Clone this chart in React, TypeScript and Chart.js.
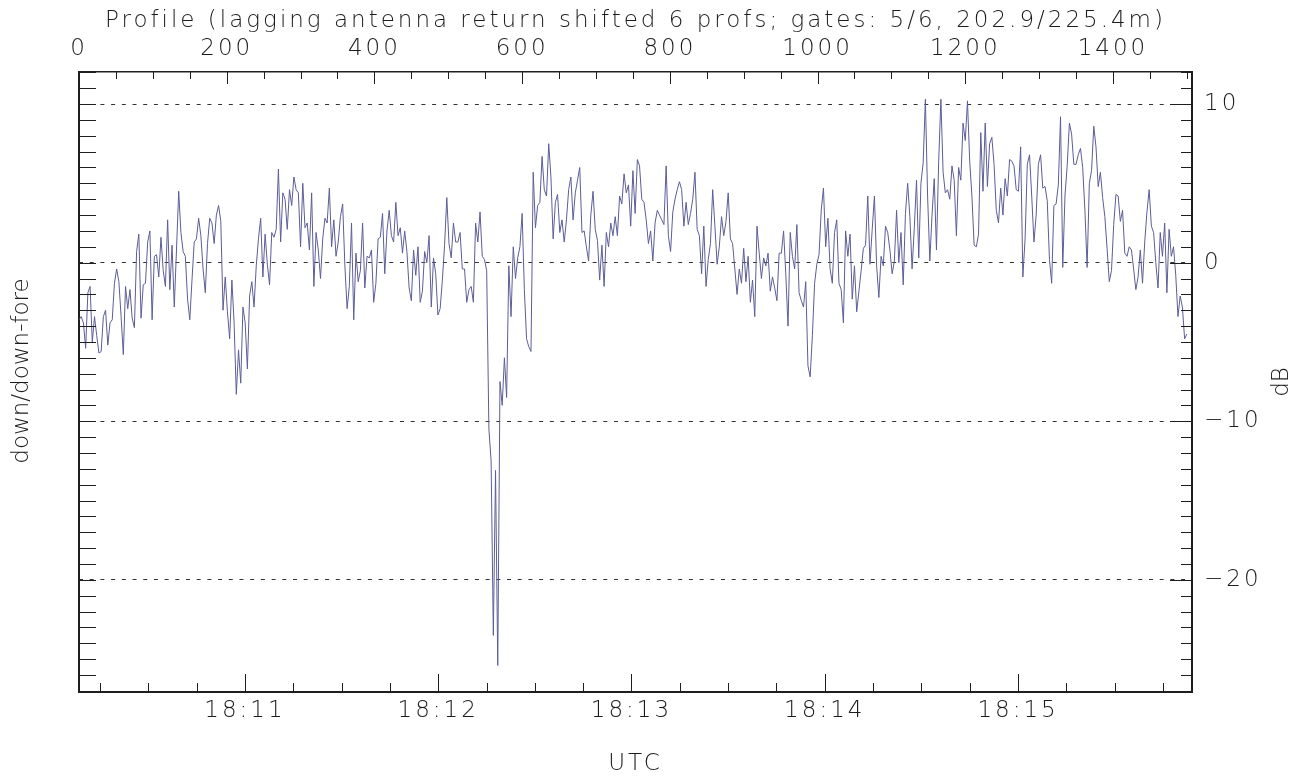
import React, { useEffect, useRef } from 'react';
import { Chart, registerables } from 'chart.js';

Chart.register(...registerables);

// ---- axis definitions ----
const PROFILE_STEP = 3;
const PROFILE_MIN = 0;
const PROFILE_MAX = 1507;
const TIME_START_S = 8.5; // seconds after 18:10:00 at profile 0
const TIME_END_S = 354.0; // seconds after 18:10:00 at PROFILE_MAX
const DB_MIN = -27.07;
const DB_MAX = 12.02;

const PROFILE_TICKS = [0, 200, 400, 600, 800, 1000, 1200, 1400];
const PROFILE_MINOR_STEP = 50;
const TIME_TICK_SECONDS = [60, 120, 180, 240, 300];
const TIME_TICK_LABELS = ['18:11', '18:12', '18:13', '18:14', '18:15'];
const TIME_MINOR_STEP = 15;
const DB_TICKS = [-20, -10, 0, 10];
const DB_MINOR_STEP = 1;

const TITLE_TOP = 'Profile (lagging antenna return shifted 6 profs; gates: 5/6, 202.9/225.4m)';
const TITLE_BOTTOM = 'UTC';
const TITLE_LEFT = 'down/down-fore';
const TITLE_RIGHT = 'dB';

// ---- series values (dB), one value every PROFILE_STEP profiles ----
const DB_P0000_0189 = [
  -3.6, -3.4, -3.8, -5.4, -1.9, -1.5, -5.0, -3.4, -4.6, -5.7,
  -5.6, -3.4, -3.0, -5.2, -3.8, -3.6, -1.3, -0.4, -1.2, -3.4,
  -5.8, -1.5, -2.9, -1.7, -3.5, -4.1, 0.7, 1.8, -3.5, -1.4,
  -1.3, 1.3, 2.0, -3.6, 0.4, 0.5, -0.9, 1.6, -0.5, -1.5,
  2.7, -1.7, 1.1, -2.8, 0.8, 4.5, 1.9, 0.7, 0.4, -2.3,
  -3.6, -1.1, 1.3, 1.5, 2.8, 1.7, -0.4, -1.9, 1.2, 2.8,
  2.5, 1.2, 3.0, 3.6,
];
const DB_P0192_0378 = [
  2.6, -3.0, -0.9, -3.1, -4.8, -1.1, -3.8, -8.3, -5.5, -7.6,
  -2.8, -3.8, -6.7, -2.1, -1.2, -2.8, -0.2, 1.5, 2.8, -0.9,
  1.8, -0.1, -1.4, 1.9, 1.6, 2.1, 5.9, 1.3, 4.4, 4.0,
  2.1, 4.6, 3.6, 5.4, 4.6, 4.4, 1.0, 5.0, 2.2, 2.5,
  0.8, 4.4, -1.5, 1.9, 0.8, -1.0, 1.5, 2.8, 2.5, 4.7,
  1.0, 2.7, 0.4, 1.3, 2.9, 3.7, -0.2, -2.9, -1.5, 2.5,
  -3.6, 0.6, -1.2,
];
const DB_P0381_0552 = [
  -0.5, 2.5, -1.6, 0.4, 0.3, 0.8, -2.5, -1.3, 1.5, 1.6,
  3.1, -0.7, 2.0, 3.3, 1.7, 1.3, 3.8, 1.7, 2.2, 0.6,
  2.0, 0.7, -1.6, -2.4, 0.8, -0.8, 1.0, -2.5, -1.8, 0.7,
  0.0, 1.7, -2.8, 0.3, -0.7, -3.3, -2.9, -1.1, 1.1, 4.1,
  1.2, 0.3, 2.5, 1.3, 1.3, 1.9, -0.4, -0.4, -2.5, -1.7,
  -1.5, -2.5, 2.5, 1.3, 3.2, 0.4, 0.2, -0.5,
];
const DB_P0555_0570 = [-10.5, -12.5, -23.5, -13.1, -25.4, -7.5];
const DB_P0573_0744 = [
  -9.0, -6.0, -8.5, -0.2, -3.4, 1.0, -1.0, 0.3, 1.0, 3.1,
  -1.7, -4.8, -5.3, -5.6, 5.7, 2.2, 3.6, 3.8, 6.7, 4.6,
  4.2, 7.5, 5.4, 1.5, 3.8, 4.3, 1.9, 2.7, 1.3, 2.7,
  4.6, 5.4, 2.7, 4.4, 5.2, 6.0, 1.9, 2.0, 1.0, 0.1,
  3.0, 4.5, 2.1, 1.4, -1.1, 1.1, -1.5, 1.9, 1.0, 2.5,
  1.7, 2.9, 1.7, 4.2, 3.7, 5.6, 4.4, 4.9,
];
const DB_P0747_0933 = [
  2.3, 5.8, 3.1, 6.5, 6.1, 4.0, 3.8, 2.7, 1.2, 2.0,
  0.1, 2.5, 3.3, 3.0, 2.7, 2.4, 6.1, 1.7, 0.7, 3.2,
  4.0, 4.6, 5.1, 4.6, 2.3, 3.8, 2.4, 3.1, 4.0, 5.7,
  2.1, 1.7, -0.7, 2.3, -1.5, 0.2, 1.2, 4.6, 2.3, -0.1,
  1.0, 2.9, 1.7, 2.6, 4.4, 1.5, 1.2, -0.4, -2.0, -0.4,
  -1.3, 0.9, -1.2, 0.4, -2.5, -1.1, -3.4, 2.3, 0.6, -1.0,
  0.3, -0.2, 0.6,
];
const DB_P0936_1122 = [
  -1.8, -0.9, -1.6, -2.4, 0.6, 0.6, 2.0, -0.7, -4.0, 1.9,
  0.4, -0.4, 2.4, -1.9, -2.4, -2.8, -1.2, -6.5, -7.2, -4.6,
  -1.3, -0.1, 0.5, 3.3, 4.7, 1.0, 2.8, -0.4, -1.3, 1.9,
  2.7, -1.3, -1.7, -3.8, 2.0, 0.4, 1.8, -2.3, -0.2, -3.1,
  -1.8, -0.5, 0.9, 1.1, 4.2, -0.1, 2.1, 4.2, -0.2, -2.2,
  0.4, -0.2, 2.3, 1.9, 0.8, -0.7, 0.1, 3.3, 0.0, 1.9,
  -1.4, 3.1, 5.0,
];
const DB_P1125_1311 = [
  2.9, -0.4, 2.2, 5.2, 0.3, 5.0, 6.3, 10.3, 4.2, 0.1,
  3.0, 5.3, 0.8, 6.4, 10.3, 5.7, 4.4, 4.6, 4.0, 6.1,
  5.2, 1.7, 6.0, 5.2, 8.8, 7.7, 10.2, 6.4, 4.2, 1.1,
  1.0, 1.8, 8.2, 4.5, 8.8, 4.8, 7.5, 7.9, 6.2, 3.3,
  2.5, 4.7, 3.0, 5.3, 4.2, 6.5, 6.4, 6.1, 4.6, 4.5,
  7.3, -0.9, 1.5, 6.2, 6.8, 4.2, 1.3, 3.0, 6.2, 6.8,
  4.7, 4.8, 3.9,
];
const DB_P1314_1500 = [
  0.2, -1.3, 3.6, 3.7, 4.9, 9.2, -0.3, 4.2, 6.1, 8.8,
  8.1, 6.2, 6.2, 6.8, 7.2, 6.0, 3.3, -0.3, 5.0, 5.8,
  8.6, 7.3, 4.8, 5.7, 4.1, 2.9, 0.9, -1.2, -0.5, 2.4,
  4.3, 4.2, 2.6, 3.3, 0.6, 0.4, 1.0, 0.8, -0.4, -1.7,
  -0.9, 0.8, -1.3, 1.3, 3.2, 4.6, 2.3, 1.9, 0.0, -1.6,
  1.9, 0.4, 2.5, -1.9, 2.1, 0.4, 1.0, -0.8, -3.4, -2.1,
  -2.8, -4.8, -4.5,
];

const DB_VALUES = [
  ...DB_P0000_0189,
  ...DB_P0192_0378,
  ...DB_P0381_0552,
  ...DB_P0555_0570,
  ...DB_P0573_0744,
  ...DB_P0747_0933,
  ...DB_P0936_1122,
  ...DB_P1125_1311,
  ...DB_P1314_1500,
];

// ---- styling ----
const LINE_COLOR = '#5c5d97';
const AXIS_COLOR = '#1e1e1e';
const TEXT_COLOR = '#1c1c1c';
const FONT_FAMILY = "'DejaVu Sans', 'Liberation Sans', sans-serif";
const FONT_WEIGHT = 200;
const FONT_SIZE = 23;
const LETTER_SPACING = '3px';

const W = 1310;
const H = 778;
const AREA = { left: 79, top: 72, right: 1192, bottom: 692 };

const spacing = {
  id: 'letterSpacing',
  beforeDraw(chart: any) {
    chart.ctx.letterSpacing = LETTER_SPACING;
  },
  afterDraw(chart: any) {
    chart.ctx.letterSpacing = '0px';
  },
};

const inwardTicks = {
  id: 'inwardTicks',
  afterDraw(chart: any) {
    const { ctx, chartArea: a, scales } = chart;
    const line = (x1: number, y1: number, x2: number, y2: number) => {
      ctx.beginPath();
      ctx.moveTo(x1, y1);
      ctx.lineTo(x2, y2);
      ctx.stroke();
    };
    ctx.save();
    ctx.strokeStyle = AXIS_COLOR;
    ctx.lineWidth = 1;
    const yL = scales.y;
    for (let v = Math.ceil(DB_MIN); v <= DB_MAX; v += DB_MINOR_STEP) {
      const py = Math.round(yL.getPixelForValue(v)) + 0.5;
      line(a.left, py, a.left + 17, py);
    }
    const yR = scales.y2;
    for (let v = Math.ceil(DB_MIN); v <= DB_MAX; v += DB_MINOR_STEP) {
      const py = Math.round(yR.getPixelForValue(v)) + 0.5;
      const len = DB_TICKS.includes(v) ? 22 : 11;
      line(a.right - len, py, a.right, py);
    }
    const xT = scales.xTop;
    for (let p = PROFILE_MIN + PROFILE_MINOR_STEP; p < PROFILE_MAX; p += PROFILE_MINOR_STEP) {
      const px = Math.round(xT.getPixelForValue(p)) + 0.5;
      const len = PROFILE_TICKS.includes(p) ? 12 : 7;
      line(px, a.top, px, a.top + len);
    }
    const xB = scales.xBottom;
    const first = Math.ceil(TIME_START_S / TIME_MINOR_STEP) * TIME_MINOR_STEP;
    for (let s = first; s < TIME_END_S; s += TIME_MINOR_STEP) {
      const px = Math.round(xB.getPixelForValue(s)) + 0.5;
      const len = TIME_TICK_SECONDS.includes(s) ? 18 : 9;
      line(px, a.bottom, px, a.bottom - len);
    }

    // vertical axis titles, both reading bottom-to-top
    ctx.fillStyle = TEXT_COLOR;
    ctx.font = `${FONT_WEIGHT} ${FONT_SIZE}px ${FONT_FAMILY}`;
    ctx.textAlign = 'center';
    ctx.textBaseline = 'middle';
    const midY = (a.top + a.bottom) / 2;
    ctx.save();
    ctx.translate(22, midY - 11);
    ctx.rotate(-Math.PI / 2);
    ctx.fillText(TITLE_LEFT, 0, 0);
    ctx.restore();
    ctx.save();
    ctx.translate(1282, midY);
    ctx.rotate(-Math.PI / 2);
    ctx.fillText(TITLE_RIGHT, 0, 0);
    ctx.restore();
    ctx.restore();
  },
};

const font = (size: number) => ({ family: FONT_FAMILY, size, weight: FONT_WEIGHT as any, lineHeight: 1 });

export default function App() {
  const ref = useRef<HTMLCanvasElement | null>(null);

  useEffect(() => {
    if (!ref.current) return;
    const points = DB_VALUES.map((v, i) => ({ x: PROFILE_MIN + i * PROFILE_STEP, y: v }));
    const chart = new Chart(ref.current, {
      type: 'line',
      data: {
        datasets: [
          {
            data: points,
            xAxisID: 'xTop',
            yAxisID: 'y',
            borderColor: LINE_COLOR,
            borderWidth: 1,
            pointRadius: 0,
            tension: 0,
            fill: false,
          },
        ],
      },
      options: {
        animation: false,
        responsive: false,
        maintainAspectRatio: false,
        layout: { padding: 0 },
        plugins: { legend: { display: false }, tooltip: { enabled: false } },
        scales: {
          xTop: {
            type: 'linear',
            position: 'top',
            min: PROFILE_MIN,
            max: PROFILE_MAX,
            afterBuildTicks: (s: any) => { s.ticks = PROFILE_TICKS.map((v) => ({ value: v })); },
            afterFit: (s: any) => { s.height = AREA.top; },
            ticks: {
              color: TEXT_COLOR, font: font(FONT_SIZE), padding: 11, maxRotation: 0, autoSkip: false,
              callback: (v: any) => String(v),
            },
            grid: { display: false, drawTicks: false },
            border: { display: true, color: AXIS_COLOR, width: 1.5 },
            title: { display: true, text: TITLE_TOP, color: TEXT_COLOR, font: font(FONT_SIZE), padding: { top: 10, bottom: 0 } },
          },
          xBottom: {
            type: 'linear',
            position: 'bottom',
            min: TIME_START_S,
            max: TIME_END_S,
            afterBuildTicks: (s: any) => { s.ticks = TIME_TICK_SECONDS.map((v) => ({ value: v })); },
            afterFit: (s: any) => { s.height = H - AREA.bottom; },
            ticks: {
              color: TEXT_COLOR, font: font(FONT_SIZE), padding: 8, maxRotation: 0, autoSkip: false,
              callback: (_v: any, i: number) => TIME_TICK_LABELS[i],
            },
            grid: { display: false, drawTicks: false },
            border: { display: true, color: AXIS_COLOR, width: 2 },
            title: { display: true, text: TITLE_BOTTOM, color: TEXT_COLOR, font: font(FONT_SIZE), padding: { top: 0, bottom: 2 } },
          },
          y: {
            type: 'linear',
            position: 'left',
            min: DB_MIN,
            max: DB_MAX,
            afterFit: (s: any) => { s.width = AREA.left; },
            ticks: { display: false },
            grid: { display: false, drawTicks: false },
            border: { display: true, color: AXIS_COLOR, width: 2 },
            title: { display: false },
          },
          y2: {
            type: 'linear',
            position: 'right',
            min: DB_MIN,
            max: DB_MAX,
            afterBuildTicks: (s: any) => { s.ticks = DB_TICKS.map((v) => ({ value: v })); },
            afterFit: (s: any) => { s.width = W - AREA.right; },
            ticks: {
              color: TEXT_COLOR, font: font(FONT_SIZE), padding: 12,
              callback: (v: any) => (v < 0 ? '\u2212' + Math.abs(v) : String(v)),
            },
            grid: { display: true, drawTicks: false, drawOnChartArea: true, color: '#333333', lineWidth: 1 },
            border: { display: true, color: AXIS_COLOR, width: 2, dash: [4, 6.7] },
            title: { display: false },
          },
        },
      },
      plugins: [spacing, inwardTicks],
    } as any);
    return () => chart.destroy();
  }, []);

  return (
    <div style={{ position: 'absolute', left: 0, top: 0, width: W, height: H, background: '#fff' }}>
      <canvas ref={ref} width={W} height={H} style={{ width: W, height: H, display: 'block' }} />
    </div>
  );
}
